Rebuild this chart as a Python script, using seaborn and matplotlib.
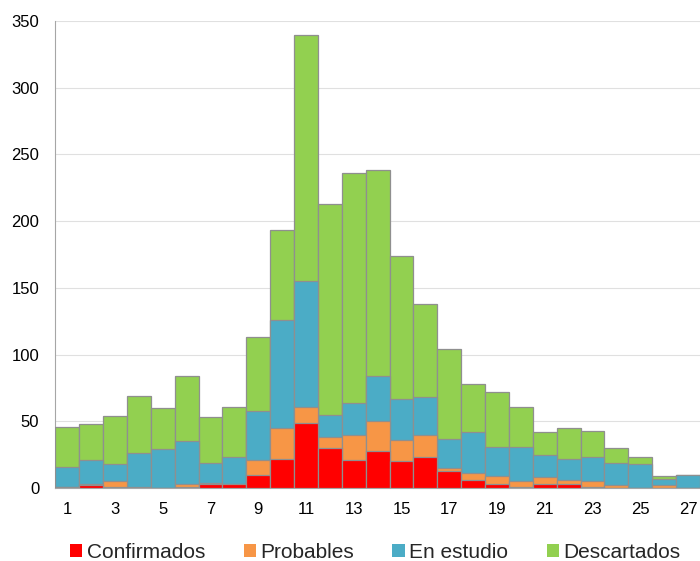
import numpy as np
import pandas as pd
import matplotlib
matplotlib.use("Agg")
import matplotlib.pyplot as plt
import seaborn as sns
from matplotlib.patches import Patch

# data
days = list(range(1, 28))
confirmados = [1, 2, 1, 0, 0, 1, 3, 3, 10, 22, 49, 30, 21, 28, 20, 23, 13, 6, 3, 1, 3, 3, 1, 0, 0, 0, 0]
probables   = [0, 1, 4, 1, 0, 2, 1, 0, 11, 23, 12, 8, 19, 22, 16, 17, 2, 5, 6, 4, 5, 3, 4, 2, 0, 2, 0]
en_estudio  = [15, 18, 13, 25, 29, 32, 15, 20, 37, 81, 94, 17, 24, 34, 31, 28, 22, 31, 22, 26, 17, 16, 18, 17, 18, 5, 10]
descartados = [30, 27, 36, 43, 31, 49, 34, 38, 55, 67, 184, 158, 172, 154, 107, 70, 67, 36, 41, 30, 17, 23, 20, 11, 5, 2, 0]

series = ["Confirmados", "Probables", "En estudio", "Descartados"]
colors = ["#ff0000", "#f79646", "#4bacc6", "#92d050"]

df = pd.DataFrame({"dia": [str(d) for d in days],
                   "Confirmados": confirmados, "Probables": probables,
                   "En estudio": en_estudio, "Descartados": descartados})
# cumulative totals, drawn from the top layer down
cum = df[series].cumsum(axis=1)

sns.set_style("white")
plt.rcParams['font.family'] = ['Liberation Sans', 'DejaVu Sans']

fig, ax = plt.subplots(figsize=(7, 5.61), dpi=100)
fig.subplots_adjust(left=0.079, right=1.0, top=0.963, bottom=0.13)

order = [str(d) for d in days]
for s, c in zip(series[::-1], colors[::-1]):
    sns.barplot(x=df["dia"], y=cum[s], order=order, color=c, width=1.0,
                edgecolor="#8f8f8f", linewidth=0.9, saturation=1, ax=ax, zorder=3)

ax.set_ylim(0, 350)
ax.set_yticks(range(0, 351, 50))
ax.set_xlim(-0.5, 26.5)
ax.set_xticks(range(0, 27, 2))
ax.set_xticklabels([str(d) for d in days[::2]])
ax.yaxis.grid(True, color="#e0e0e0", linewidth=0.8, zorder=0)
ax.set_axisbelow(True)
ax.set_xlabel("")
ax.set_ylabel("")
ax.tick_params(axis="both", labelsize=12, length=0, colors="#000000")
ax.tick_params(axis="x", pad=10)
ax.tick_params(axis="y", pad=11.5)
for sp in ["top", "right"]:
    ax.spines[sp].set_visible(False)
ax.spines["left"].set_color("#a6a6a6")
ax.spines["bottom"].set_color("#a6a6a6")

handles = [Patch(facecolor=c, edgecolor="none") for c in colors]
fig.legend(handles, series, loc="lower center", bbox_to_anchor=(0.536, -0.035),
           ncol=4, frameon=False, fontsize=15, handlelength=0.6, handleheight=0.6,
           handletextpad=0.2, columnspacing=1.85)

plt.savefig("out.png", dpi=100)
